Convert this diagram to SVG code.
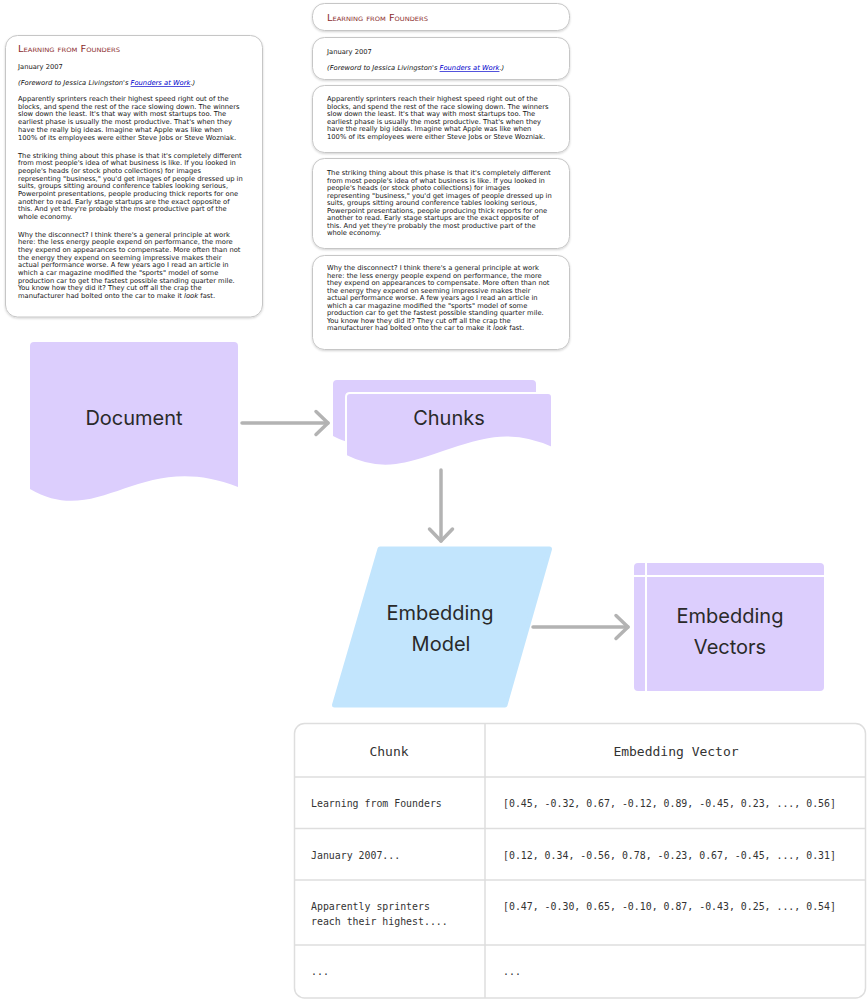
<svg xmlns="http://www.w3.org/2000/svg" width="867" height="1000" viewBox="0 0 867 1000">
<defs>
<filter id="sh" x="-5%" y="-5%" width="110%" height="115%">
<feDropShadow dx="0" dy="1" stdDeviation="1.2" flood-color="#000" flood-opacity="0.18"/>
</filter>
<marker id="chev" markerUnits="userSpaceOnUse" markerWidth="30" markerHeight="30" viewBox="-15 -15 30 30" refX="0" refY="0" orient="auto">
<path d="M-12,-11.5 L0,0 L-12,11.5" fill="none" stroke="#b3b3b3" stroke-width="3.5" stroke-linecap="round" stroke-linejoin="round"/>
</marker>
</defs>
<style>
.card{fill:#fff;stroke:#c6c6c6;stroke-width:1}
.t{font-family:"DejaVu Sans",Verdana,sans-serif;font-size:6.75px;fill:#151515}
.ti{font-family:"DejaVu Sans",Verdana,sans-serif;font-size:8.8px;fill:#8b2e2e;font-variant:small-caps}
.it{font-style:italic}
.lk{fill:#0000cc;text-decoration:underline}
.lbl{font-family:Inter,"Liberation Sans",sans-serif;font-size:20px;fill:#2a2a2a;text-anchor:middle}
.purple{fill:#dccefd}
.conn{fill:none;stroke:#b3b3b3;stroke-width:3.5;stroke-linecap:round;marker-end:url(#chev)}
.grid{fill:none;stroke:#dedede;stroke-width:1.5}
.mh{font-family:"DejaVu Sans Mono","Liberation Mono",monospace;font-size:13px;fill:#333;text-anchor:middle}
.mb{font-family:"DejaVu Sans Mono","Liberation Mono",monospace;font-size:9.9px;fill:#333}
</style>

<g id="source-document">
<rect class="card" x="5.5" y="35.5" width="257" height="281.5" rx="12" filter="url(#sh)"/>
<text class="ti" x="18" y="52.2" textLength="102" lengthAdjust="spacingAndGlyphs">Learning from Founders</text>
<text class="t" x="18" y="68.8">January 2007</text>
<text class="t it" x="18" y="85.3">(Foreword to Jessica Livingston's <tspan class="lk">Founders at Work</tspan>.)</text>
<text class="t" x="18" y="101">Apparently sprinters reach their highest speed right out of the</text>
<text class="t" x="18" y="108.7">blocks, and spend the rest of the race slowing down. The winners</text>
<text class="t" x="18" y="116.4">slow down the least. It's that way with most startups too. The</text>
<text class="t" x="18" y="124.1">earliest phase is usually the most productive. That's when they</text>
<text class="t" x="18" y="131.8">have the really big ideas. Imagine what Apple was like when</text>
<text class="t" x="18" y="139.5">100% of its employees were either Steve Jobs or Steve Wozniak.</text>
<text class="t" x="18" y="157.5">The striking thing about this phase is that it's completely different</text>
<text class="t" x="18" y="165.2">from most people's idea of what business is like. If you looked in</text>
<text class="t" x="18" y="172.9">people's heads (or stock photo collections) for images</text>
<text class="t" x="18" y="180.6">representing "business," you'd get images of people dressed up in</text>
<text class="t" x="18" y="188.3">suits, groups sitting around conference tables looking serious,</text>
<text class="t" x="18" y="196">Powerpoint presentations, people producing thick reports for one</text>
<text class="t" x="18" y="203.7">another to read. Early stage startups are the exact opposite of</text>
<text class="t" x="18" y="211.4">this. And yet they're probably the most productive part of the</text>
<text class="t" x="18" y="219.1">whole economy.</text>
<text class="t" x="18" y="236.5">Why the disconnect? I think there's a general principle at work</text>
<text class="t" x="18" y="244.2">here: the less energy people expend on performance, the more</text>
<text class="t" x="18" y="251.9">they expend on appearances to compensate. More often than not</text>
<text class="t" x="18" y="259.6">the energy they expend on seeming impressive makes their</text>
<text class="t" x="18" y="267.3">actual performance worse. A few years ago I read an article in</text>
<text class="t" x="18" y="275">which a car magazine modified the "sports" model of some</text>
<text class="t" x="18" y="282.7">production car to get the fastest possible standing quarter mile.</text>
<text class="t" x="18" y="290.4">You know how they did it? They cut off all the crap the</text>
<text class="t" x="18" y="298.1">manufacturer had bolted onto the car to make it <tspan class="it">look</tspan> fast.</text>
</g>

<g id="chunk-title">
<rect class="card" x="312.5" y="3.5" width="257" height="27" rx="12" filter="url(#sh)"/>
<text class="ti" x="327" y="20.5" textLength="101" lengthAdjust="spacingAndGlyphs">Learning from Founders</text>
</g>
<g id="chunk-date">
<rect class="card" x="312.5" y="37.5" width="257" height="42" rx="12" filter="url(#sh)"/>
<text class="t" x="327" y="54.3">January 2007</text>
<text class="t it" x="327" y="70">(Foreword to Jessica Livingston's <tspan class="lk">Founders at Work</tspan>.)</text>
</g>
<g id="chunk-p1">
<rect class="card" x="312.5" y="85.5" width="257" height="67" rx="12" filter="url(#sh)"/>
<text class="t" x="327" y="101">Apparently sprinters reach their highest speed right out of the</text>
<text class="t" x="327" y="108.5">blocks, and spend the rest of the race slowing down. The winners</text>
<text class="t" x="327" y="116">slow down the least. It's that way with most startups too. The</text>
<text class="t" x="327" y="123.5">earliest phase is usually the most productive. That's when they</text>
<text class="t" x="327" y="131">have the really big ideas. Imagine what Apple was like when</text>
<text class="t" x="327" y="138.5">100% of its employees were either Steve Jobs or Steve Wozniak.</text>
</g>
<g id="chunk-p2">
<rect class="card" x="312.5" y="158.5" width="257" height="90" rx="12" filter="url(#sh)"/>
<text class="t" x="327" y="175.2">The striking thing about this phase is that it's completely different</text>
<text class="t" x="327" y="182.7">from most people's idea of what business is like. If you looked in</text>
<text class="t" x="327" y="190.2">people's heads (or stock photo collections) for images</text>
<text class="t" x="327" y="197.7">representing "business," you'd get images of people dressed up in</text>
<text class="t" x="327" y="205.2">suits, groups sitting around conference tables looking serious,</text>
<text class="t" x="327" y="212.7">Powerpoint presentations, people producing thick reports for one</text>
<text class="t" x="327" y="220.2">another to read. Early stage startups are the exact opposite of</text>
<text class="t" x="327" y="227.7">this. And yet they're probably the most productive part of the</text>
<text class="t" x="327" y="235.2">whole economy.</text>
</g>
<g id="chunk-p3">
<rect class="card" x="312.5" y="255.5" width="257" height="94" rx="12" filter="url(#sh)"/>
<text class="t" x="327" y="270.3">Why the disconnect? I think there's a general principle at work</text>
<text class="t" x="327" y="277.8">here: the less energy people expend on performance, the more</text>
<text class="t" x="327" y="285.3">they expend on appearances to compensate. More often than not</text>
<text class="t" x="327" y="292.8">the energy they expend on seeming impressive makes their</text>
<text class="t" x="327" y="300.3">actual performance worse. A few years ago I read an article in</text>
<text class="t" x="327" y="307.8">which a car magazine modified the "sports" model of some</text>
<text class="t" x="327" y="315.3">production car to get the fastest possible standing quarter mile.</text>
<text class="t" x="327" y="322.8">You know how they did it? They cut off all the crap the</text>
<text class="t" x="327" y="330.3">manufacturer had bolted onto the car to make it <tspan class="it">look</tspan> fast.</text>
</g>

<g id="document">
<path class="purple" d="M30,346 Q30,342 34,342 H234 Q238,342 238,346 V487 C140,448 100,530 30,489 Z"/>
<text class="lbl" x="134" y="424.5">Document</text>
</g>

<g id="chunks">
<path class="purple" d="M333,384 Q333,380 337,380 H532 Q536,380 536,384 V428 C455,389 405,473 333,436 Z"/>
<path class="purple" stroke="#fff" stroke-width="2" d="M346,397 Q346,393 350,393 H548 Q552,393 552,397 V448 C470,409 418,493 346,456 Z"/>
<text class="lbl" x="449" y="425">Chunks</text>
</g>

<g id="embedding-model">
<path d="M380,549 L549.5,549 L505,705 L334.5,705 Z" fill="#c2e5fd" stroke="#c2e5fd" stroke-width="5" stroke-linejoin="round"/>
<text class="lbl" x="440" y="619.5">Embedding</text>
<text class="lbl" x="441" y="650.5">Model</text>
</g>

<g id="embedding-vectors">
<rect class="purple" x="634" y="563" width="190" height="128" rx="4"/>
<line x1="646" y1="563" x2="646" y2="691" stroke="#fff" stroke-width="2"/>
<line x1="634" y1="576" x2="824" y2="576" stroke="#fff" stroke-width="2"/>
<text class="lbl" x="730" y="623">Embedding</text>
<text class="lbl" x="730" y="654">Vectors</text>
</g>

<g id="connectors">
<line class="conn" x1="242" y1="423" x2="328" y2="423"/>
<line class="conn" x1="441" y1="470" x2="441" y2="541"/>
<line class="conn" x1="533" y1="627" x2="628" y2="627"/>
</g>

<g id="table">
<rect x="294.5" y="723.5" width="571" height="274.5" rx="10" fill="#fff" stroke="#dedede" stroke-width="1.5"/>
<path class="grid" d="M485,724 V998 M295,777 H865 M295,828.5 H865 M295,880 H865 M295,945 H865"/>
<text class="mh" x="389" y="755.5">Chunk</text>
<text class="mh" x="676" y="755.5">Embedding Vector</text>
<text class="mb" x="311" y="806.5">Learning from Founders</text>
<text class="mb" x="503" y="806.5">[0.45, -0.32, 0.67, -0.12, 0.89, -0.45, 0.23, ..., 0.56]</text>
<text class="mb" x="311" y="858.5">January 2007...</text>
<text class="mb" x="503" y="858.5">[0.12, 0.34, -0.56, 0.78, -0.23, 0.67, -0.45, ..., 0.31]</text>
<text class="mb" x="311" y="910">Apparently sprinters</text>
<text class="mb" x="311" y="925">reach their highest....</text>
<text class="mb" x="503" y="910">[0.47, -0.30, 0.65, -0.10, 0.87, -0.43, 0.25, ..., 0.54]</text>
<text class="mb" x="311" y="974.5">...</text>
<text class="mb" x="503" y="974.5">...</text>
</g>
</svg>
